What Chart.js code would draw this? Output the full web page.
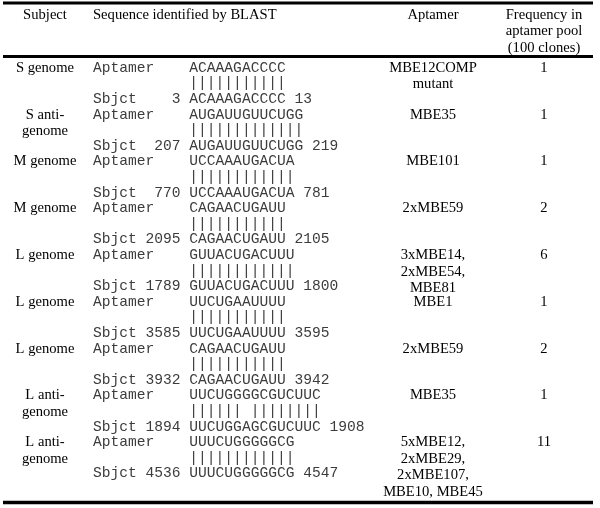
<!DOCTYPE html>
<html>
<head>
<meta charset="utf-8">
<script src="https://cdn.jsdelivr.net/npm/chart.js@4"></script>
<style>
html,body{margin:0;padding:0;background:#fff;}
#wrap{width:600px;height:508px;}
</style>
</head>
<body>
<div id="wrap"><canvas id="c" width="600" height="508"></canvas></div>
<script>
// ---- data ----
const columnHeaders = [["Subject"], ["Sequence identified by BLAST"], ["Aptamer"], ["Frequency in", "aptamer pool", "(100 clones)"]];
const subjects = [["S genome"], ["S anti-", "genome"], ["M genome"], ["M genome"], ["L genome"], ["L genome"], ["L genome"], ["L anti-", "genome"], ["L anti-", "genome"]];
const aptamerSeqs = ["ACAAAGACCCC", "AUGAUUGUUCUGG", "UCCAAAUGACUA", "CAGAACUGAUU", "GUUACUGACUUU", "UUCUGAAUUUU", "CAGAACUGAUU", "UUCUGGGGCGUCUUC", "UUUCUGGGGGCG"];
const sbjctSeqs = ["ACAAAGACCCC", "AUGAUUGUUCUGG", "UCCAAAUGACUA", "CAGAACUGAUU", "GUUACUGACUUU", "UUCUGAAUUUU", "CAGAACUGAUU", "UUCUGGAGCGUCUUC", "UUUCUGGGGGCG"];
const sbjctStarts = [3, 207, 770, 2095, 1789, 3585, 3932, 1894, 4536];
const sbjctEnds = [13, 219, 781, 2105, 1800, 3595, 3942, 1908, 4547];
const aptamerNames = [["MBE12COMP", "mutant"], ["MBE35"], ["MBE101"], ["2xMBE59"], ["3xMBE14,", "2xMBE54,", "MBE81"], ["MBE1"], ["2xMBE59"], ["MBE35"], ["5xMBE12,", "2xMBE29,", "2xMBE107,", "MBE10, MBE45"]];
const frequencies = [1, 1, 1, 2, 6, 1, 2, 1, 11];

// ---- layout (drawing only) ----
const L = {
  ruleX0: 3, ruleX1: 593, rules: [3, 56.5, 502.5], ruleW: [3, 3, 3.5],
  subjX: 45, seqX: 93, aptX: 433, freqX: 544,
  headY: 15, headPitch: 16.5,
  row0: 68, rowPitch: 46.8, monoPitch: 15.6, serifPitch: 16.6,
  serif: '14.6px "Liberation Serif", "Times New Roman", serif',
  mono: '14.6px "Liberation Mono", "Courier New", monospace'
};

function pad(s, n) { s = String(s); while (s.length < n) s = ' ' + s; return s; }
function matchLine(a, b) { let m = ''; for (let i = 0; i < a.length; i++) m += (a[i] === b[i]) ? '|' : ' '; return m; }

const tablePlugin = {
  id: 'tablePlugin',
  afterDraw(chart) {
    const ctx = chart.ctx, xs = chart.scales.x, ys = chart.scales.y;
    const X = v => xs.getPixelForValue(v), Y = v => ys.getPixelForValue(v);
    ctx.save();
    // rules
    ctx.strokeStyle = '#000';
    L.rules.forEach((r, i) => {
      ctx.lineWidth = L.ruleW[i];
      ctx.beginPath(); ctx.moveTo(X(L.ruleX0), Y(r)); ctx.lineTo(X(L.ruleX1), Y(r)); ctx.stroke();
    });
    ctx.textBaseline = 'middle';
    // headers
    ctx.font = L.serif; ctx.fillStyle = '#000';
    const hx = [[L.subjX, 'center'], [L.seqX, 'left'], [L.aptX, 'center'], [L.freqX, 'center']];
    columnHeaders.forEach((h, c) => {
      ctx.textAlign = hx[c][1];
      h.forEach((t, k) => ctx.fillText(t, X(hx[c][0]), Y(L.headY + k * L.headPitch)));
    });
    // rows
    subjects.forEach((subj, i) => {
      const top = L.row0 + i * L.rowPitch;
      ctx.font = L.serif; ctx.fillStyle = '#000'; ctx.textAlign = 'center';
      subj.forEach((t, k) => ctx.fillText(t, X(L.subjX), Y(top + k * L.serifPitch)));
      aptamerNames[i].forEach((t, k) => ctx.fillText(t, X(L.aptX), Y(top + k * L.serifPitch)));
      ctx.fillText(String(frequencies[i]), X(L.freqX), Y(top));
      ctx.font = L.mono; ctx.fillStyle = '#3c3c3c'; ctx.textAlign = 'left';
      const lines = [
        'Aptamer    ' + aptamerSeqs[i],
        '           ' + matchLine(aptamerSeqs[i], sbjctSeqs[i]),
        'Sbjct ' + pad(sbjctStarts[i], 4) + ' ' + sbjctSeqs[i] + ' ' + sbjctEnds[i]
      ];
      lines.forEach((t, k) => ctx.fillText(t, X(L.seqX), Y(top + k * L.monoPitch)));
    });
    ctx.restore();
  }
};

new Chart(document.getElementById('c'), {
  type: 'scatter',
  data: { datasets: [{ data: [], pointRadius: 0 }] },
  options: {
    responsive: false, animation: false,
    layout: { padding: 0 },
    plugins: { legend: { display: false }, tooltip: { enabled: false } },
    scales: {
      x: { type: 'linear', min: 0, max: 600, display: false },
      y: { type: 'linear', min: 0, max: 508, reverse: true, display: false }
    }
  },
  plugins: [tablePlugin]
});
</script>
</body>
</html>
